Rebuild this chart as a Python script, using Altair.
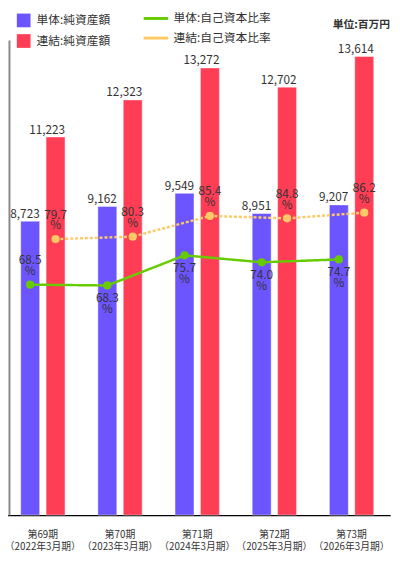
import altair as alt
import pandas as pd

# ---- data ----
periods = ["第69期", "第70期", "第71期", "第72期", "第73期"]
fiscal_years = ["（2022年3月期）", "（2023年3月期）", "（2024年3月期）", "（2025年3月期）", "（2026年3月期）"]
tandoku_assets = [8723, 9162, 9549, 8951, 9207]
renketsu_assets = [11223, 12323, 13272, 12702, 13614]
tandoku_ratio = [68.5, 68.3, 75.7, 74.0, 74.7]
renketsu_ratio = [79.7, 80.3, 85.4, 84.8, 86.2]

asset_series = ["単体:純資産額", "連結:純資産額"]
ratio_series = ["単体:自己資本比率", "連結:自己資本比率"]
basis = ["単体", "連結"]
unit_label = ["単位:百万円"]

FONT = "Noto Sans CJK JP"
TXT = "#333333"

x_labels = [p + "\n" + f for p, f in zip(periods, fiscal_years)]

bar_rows = []
for i, xl in enumerate(x_labels):
    bar_rows.append({"x": xl, "basis": basis[0], "series": asset_series[0], "value": tandoku_assets[i]})
    bar_rows.append({"x": xl, "basis": basis[1], "series": asset_series[1], "value": renketsu_assets[i]})
bars_df = pd.DataFrame(bar_rows)

line_rows = []
for i, xl in enumerate(x_labels):
    line_rows.append({"x": xl, "period": periods[i], "basis": basis[0], "series": ratio_series[0], "ratio": tandoku_ratio[i]})
    line_rows.append({"x": xl, "period": periods[i], "basis": basis[1], "series": ratio_series[1], "ratio": renketsu_ratio[i]})
line_df = pd.DataFrame(line_rows)

x_enc = alt.X(
    "x:N",
    sort=x_labels,
    scale=alt.Scale(domain=x_labels, range=[-4.8, 389.1], paddingInner=0, paddingOuter=0),
    axis=alt.Axis(
        title=None, labelAngle=0, ticks=False, grid=False,
        domainColor="#000000", domainWidth=1.5,
        labelExpr="split(datum.value, '\\n')",
        labelFont=FONT, labelFontSize=10, labelColor=TXT,
        labelLineHeight=12.5, labelPadding=15,
    ),
)
xo_enc = alt.XOffset(
    "basis:N",
    scale=alt.Scale(domain=basis, paddingInner=0.253, paddingOuter=0.647),
)

# ---- bars ----
bar_y = alt.Y(
    "value:Q",
    scale=alt.Scale(domain=[0, 14100], nice=False, zero=True),
    axis=alt.Axis(title=None, labels=False, ticks=False, grid=False,
                  domainColor="#888888", domainWidth=2),
)
bars = alt.Chart(bars_df).mark_bar(stroke="white", strokeOpacity=0.45, strokeWidth=1).encode(
    x=x_enc,
    xOffset=xo_enc,
    y=bar_y,
    color=alt.Color(
        "series:N",
        scale=alt.Scale(domain=asset_series, range=["#6c55ff", "#ff3d55"]),
        legend=alt.Legend(
            title=None, orient="none", legendX=8, legendY=-27,
            symbolType="square", symbolSize=196, symbolStrokeWidth=0,
            symbolOpacity=1, labelOffset=6, rowPadding=7, padding=0,
            labelFont=FONT, labelFontSize=12, labelColor=TXT,
        ),
    ),
)
bar_text = alt.Chart(bars_df).mark_text(
    align="right", baseline="alphabetic", dx=9.7, dy=-3.5,
    font=FONT, fontSize=12, color=TXT,
).encode(
    x=x_enc, xOffset=xo_enc, y=bar_y,
    text=alt.Text("value:Q", format=","),
)
bar_layer = alt.layer(bars, bar_text)

# ---- ratio lines ----
line_y = alt.Y("ratio:Q", scale=alt.Scale(domain=[11.83, 128.65], nice=False, zero=False), axis=None)
lines = alt.Chart(line_df).mark_line(
    strokeWidth=2.5,
    point=alt.OverlayMarkDef(filled=True, size=70, opacity=1),
).encode(
    x=x_enc, xOffset=xo_enc, y=line_y,
    color=alt.Color(
        "series:N",
        scale=alt.Scale(domain=ratio_series, range=["#66cc00", "#ffc966"]),
        legend=alt.Legend(
            title=None, orient="none", legendX=136, legendY=-36,
            symbolType="stroke", symbolSize=625, symbolStrokeWidth=3,
            labelOffset=4, rowPadding=-2, padding=0,
            labelFont=FONT, labelFontSize=12, labelColor=TXT,
        ),
    ),
    strokeDash=alt.StrokeDash(
        "series:N",
        scale=alt.Scale(domain=ratio_series, range=[[1, 0], [3, 2]]),
        legend=None,
    ),
)

pct_base = alt.Chart(line_df).transform_calculate(
    label="format(datum.ratio, '.1f') + '\\n%'"
)
above = pct_base.transform_filter(
    "datum.basis == '連結' || datum.period == '第69期'"
).mark_text(
    baseline="top", dy=-30, lineBreak="\n", lineHeight=11,
    font=FONT, fontSize=12, color=TXT,
).encode(x=x_enc, xOffset=xo_enc, y=line_y, text="label:N")
below = pct_base.transform_filter(
    "datum.basis == '単体' && datum.period != '第69期'"
).mark_text(
    baseline="top", dy=8, lineBreak="\n", lineHeight=11,
    font=FONT, fontSize=12, color=TXT,
).encode(x=x_enc, xOffset=xo_enc, y=line_y, text="label:N")

unit_text = alt.Chart(pd.DataFrame({"t": unit_label})).mark_text(
    align="right", baseline="alphabetic", font=FONT, fontSize=11,
    fontWeight="bold", color=TXT,
).encode(text="t:N", x=alt.value(389), y=alt.value(-12.5))

line_layer = alt.layer(lines, above, below, unit_text)

chart = alt.layer(bar_layer, line_layer).resolve_scale(
    y="independent", color="independent"
).properties(
    width=390,
    height=485,
    padding={"left": 1, "top": 27, "right": 1, "bottom": 34},
    autosize=alt.AutoSizeParams(type="none"),
).configure_view(stroke=None)

chart.save("out.html", embed_options={"renderer": "svg", "actions": False})
